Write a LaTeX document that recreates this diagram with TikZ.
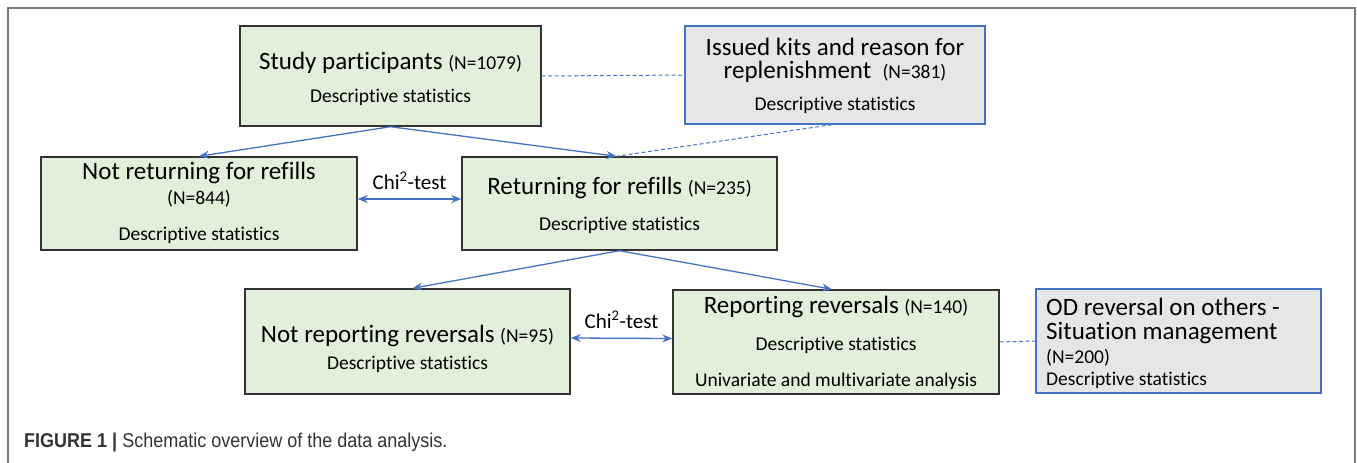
\documentclass[tikz,border=0pt]{standalone}
\usepackage{fontspec}
\setmainfont{Carlito}[RawFeature={-liga;-clig;-calt;-dlig}]
\newfontfamily\capfont[FakeStretch=0.9]{Liberation Sans}
\usetikzlibrary{arrows.meta}
\definecolor{boxgreen}{HTML}{E2EFDA}
\definecolor{boxgray}{HTML}{E7E6E6}
\definecolor{lineblue}{HTML}{4472C4}
\definecolor{framegray}{HTML}{7A7A7A}
\newcommand\bigsz{\fontsize{25}{29}\selectfont}
\newcommand\midsz{\fontsize{19.5}{23}\selectfont}
\newcommand\nsz[1]{{\fontsize{19.5}{23}\selectfont #1}}
\tikzset{
  greenbox/.style={draw=black!80,line width=1.4pt,fill=boxgreen,inner sep=0pt},
  graybox/.style={draw=lineblue,line width=1.4pt,fill=boxgray,inner sep=0pt},
  flow/.style={draw=lineblue,line width=1.3pt,-{Stealth[length=10pt,width=8pt]}},
  biflow/.style={draw=lineblue,line width=1.3pt,{Stealth[length=10pt,width=8pt]}-{Stealth[length=10pt,width=8pt]}},
  link/.style={draw=lineblue,line width=1pt,dash pattern=on 4pt off 2.5pt},
  big/.style={font=\bigsz,inner sep=0pt},
  mid/.style={font=\midsz,inner sep=0pt},
  chitxt/.style={font=\fontsize{21}{24}\selectfont,inner sep=0pt}
}
\begin{document}
\begin{tikzpicture}[x=1pt,y=-1pt]
\useasboundingbox (0,0) rectangle (1357,463);
% frame
\draw [framegray,line width=2pt](8,463) -- (8,8) -- (1355,8) -- (1355,463);

% boxes
\node [greenbox,minimum width=301,minimum height=100] (sp) at (390.5,76) {};
\node [graybox,minimum width=300,minimum height=98] (ik) at (835,75) {};
\node [greenbox,minimum width=316,minimum height=93] (nr) at (199,203.5) {};
\node [greenbox,minimum width=315,minimum height=93] (rf) at (619.5,203.5) {};
\node [greenbox,minimum width=325,minimum height=105] (np) at (407.5,341.5) {};
\node [greenbox,minimum width=326,minimum height=104] (rp) at (836,342) {};
\node [graybox,minimum width=285,minimum height=104] (od) at (1178.5,341) {};

% texts
\node [big] (sp1) at (390.5,63) {Study participants \nsz{(N=1079)}};
\node [mid] (sp2) at (390.5,97) {Descriptive statistics};
\node [big] (ik1) at (835,47) {Issued kits and reason for};
\node [big] (ik2) at (835,72) {replenishment\ \ \nsz{(N=381)}};
\node [mid] (ik3) at (835,105) {Descriptive statistics};
\node [big] (nr1) at (199,173) {Not returning for refills};
\node [mid] (nr2) at (199,199) {(N=844)};
\node [mid] (nr3) at (199,235) {Descriptive statistics};
\node [big] (rf1) at (619.5,188) {Returning for refills \nsz{(N=235)}};
\node [mid] (rf2) at (619.5,225) {Descriptive statistics};
\node [big] (np1) at (407.5,336) {Not reporting reversals \nsz{(N=95)}};
\node [mid] (np2) at (407.5,364) {Descriptive statistics};
\node [big] (rp1) at (836,307) {Reporting reversals \nsz{(N=140)}};
\node [mid] (rp2) at (836,345) {Descriptive statistics};
\node [mid] (rp3) at (836,381) {Univariate and multivariate analysis};
\node [big,anchor=west] (od1) at (1046,307) {OD reversal on others -};
\node [big,anchor=west] (od2) at (1046,333) {Situation management};
\node [mid,anchor=west] (od3) at (1046,358) {(N=200)};
\node [mid,anchor=west] (od4) at (1046,380) {Descriptive statistics};

% connectors
\draw [flow] (sp.south) -- (nr.north);
\draw [flow] (sp.south) -- ([xshift=-3pt]rf.north);
\draw [flow] (rf.south) -- ([xshift=5pt]np.north);
\draw [flow] (rf.south) -- ([xshift=-4pt]rp.north);
\draw [link] (sp.east) -- (ik.west);
\draw [link] ([xshift=-3pt]ik.south) -- ([xshift=-3pt]rf.north);
\draw [link] (rp.east) -- (od.west);
\draw [biflow] ([yshift=4.5pt]nr.east) -- ([yshift=4.5pt]rf.west)
  node [midway,above=9pt,chitxt] (chi1) {Chi\textsuperscript{2}-test};
\draw [biflow] ([yshift=3.5pt]np.east) -- ([yshift=3.5pt]rp.west)
  node [midway,above=9pt,chitxt] (chi2) {Chi\textsuperscript{2}-test};

% caption
\node [anchor=west,inner sep=0pt,text=black!80,font=\capfont\fontsize{20}{24}\selectfont] (cap) at (24,442)
  {\textbf{FIGURE 1 |} Schematic overview of the data analysis.};
\end{tikzpicture}
\end{document}
